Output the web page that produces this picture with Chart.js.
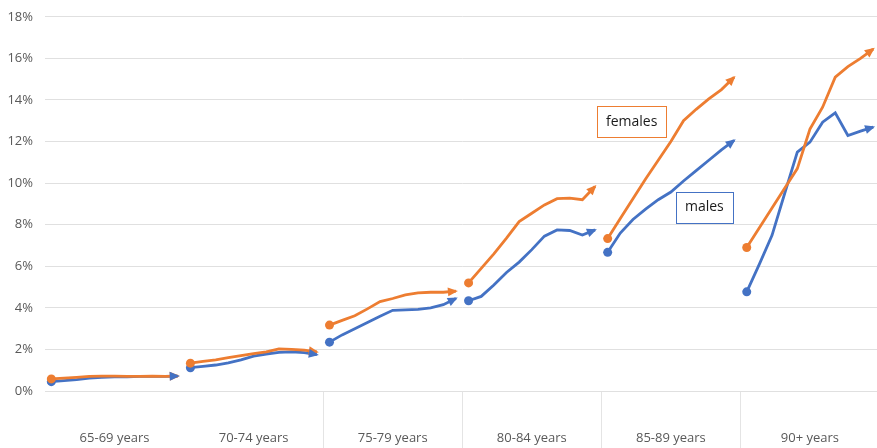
<!DOCTYPE html>
<html>
<head>
<meta charset="utf-8">
<script src="https://cdn.jsdelivr.net/npm/chart.js@4/dist/chart.umd.min.js"></script>
<style>
  html, body { margin: 0; padding: 0; background: #fff; overflow: hidden; }
  #frame { width: 877px; height: 448px; position: relative; overflow: hidden; }
  #wrap { width: 884px; height: 451px; position: absolute; left: 0; top: -3px; }
</style>
</head>
<body>
<div id="frame"><div id="wrap"><canvas id="chart"></canvas></div></div>
<script>
// age groups, each with 11 yearly points
const groups = ["65-69 years", "70-74 years", "75-79 years", "80-84 years", "85-89 years", "90+ years"];
const yTicks = [0, 2, 4, 6, 8, 10, 12, 14, 16, 18];

// females (%), per age group
const f6569 = [0.58, 0.62, 0.66, 0.70, 0.72, 0.72, 0.70, 0.70, 0.72, 0.70, 0.72];
const f7074 = [1.34, 1.42, 1.50, 1.60, 1.70, 1.80, 1.88, 2.03, 2.00, 1.97, 1.88];
const f7579 = [3.17, 3.40, 3.62, 3.95, 4.30, 4.45, 4.62, 4.72, 4.75, 4.75, 4.80];
const f8084 = [5.20, 5.90, 6.60, 7.35, 8.15, 8.55, 8.95, 9.25, 9.28, 9.20, 9.84];
const f8589 = [7.33, 8.30, 9.25, 10.20, 11.10, 12.00, 13.00, 13.55, 14.05, 14.50, 15.09];
const f90 = [6.90, 7.85, 8.80, 9.75, 10.70, 12.60, 13.65, 15.10, 15.60, 16.00, 16.45];

// males (%), per age group
const m6569 = [0.45, 0.50, 0.55, 0.62, 0.66, 0.68, 0.68, 0.70, 0.70, 0.70, 0.72];
const m7074 = [1.12, 1.18, 1.25, 1.35, 1.50, 1.68, 1.78, 1.86, 1.88, 1.85, 1.75];
const m7579 = [2.35, 2.70, 3.00, 3.30, 3.60, 3.88, 3.90, 3.93, 4.00, 4.15, 4.45];
const m8084 = [4.34, 4.55, 5.10, 5.70, 6.20, 6.80, 7.45, 7.75, 7.72, 7.50, 7.75];
const m8589 = [6.67, 7.60, 8.25, 8.75, 9.20, 9.57, 10.10, 10.60, 11.10, 11.60, 12.05];
const m90 = [4.77, 6.10, 7.49, 9.50, 11.49, 11.97, 12.93, 13.38, 12.29, 12.50, 12.69];

const perGroup = 11;
const females = [f6569, f7074, f7579, f8084, f8589, f90].flat();
const males = [m6569, m7074, m7579, m8084, m8589, m90].flat();
const labels = [];
groups.forEach(g => { for (let i = 1; i <= perGroup; i++) labels.push(g + " #" + i); });

// text boxes: [category index, value]
const boxFemales = [45.9, 12.96];
const boxMales = [51.65, 8.83];

const ORANGE = "#ED7D31";
const BLUE = "#4472C4";
const FONT = "'Open Sans', 'DejaVu Sans', sans-serif";

function makeSet(label, data, color) {
  return {
    label,
    data,
    borderColor: color,
    backgroundColor: color,
    borderWidth: 2.8,
    tension: 0,
    pointRadius: ctx => (ctx.dataIndex % perGroup === 0 ? 4.5 : 0),
    pointHoverRadius: 0,
    pointBorderWidth: 0,
    segment: {
      // break the line between age groups
      borderColor: ctx => (ctx.p1DataIndex % perGroup === 0 ? "rgba(0,0,0,0)" : color)
    }
  };
}

// arrow heads at the end of each group
const arrowPlugin = {
  id: "arrows",
  afterDatasetsDraw(chart) {
    const c = chart.ctx;
    chart.data.datasets.forEach((ds, di) => {
      const pts = chart.getDatasetMeta(di).data;
      for (let g = 0; g < groups.length; g++) {
        const end = pts[g * perGroup + perGroup - 1];
        const prev = pts[g * perGroup + perGroup - 2];
        const a = Math.atan2(end.y - prev.y, end.x - prev.x);
        c.save();
        c.translate(end.x, end.y);
        c.rotate(a);
        c.fillStyle = ds.borderColor;
        c.beginPath();
        c.moveTo(2, 0);
        c.lineTo(-8, -4.5);
        c.lineTo(-8, 4.5);
        c.closePath();
        c.fill();
        c.restore();
      }
    });
  }
};

function drawBox(chart, pos, text, color) {
  const c = chart.ctx;
  const x = chart.scales.x.getPixelForValue(pos[0]);
  const y = chart.scales.y.getPixelForValue(pos[1]);
  c.save();
  c.font = "14px " + FONT;
  const w = c.measureText(text).width + 18;
  const h = 31;
  c.fillStyle = "#fff";
  c.fillRect(x - w / 2, y - h / 2, w, h);
  c.strokeStyle = color;
  c.lineWidth = 1;
  c.strokeRect(Math.round(x - w / 2) + 0.5, Math.round(y - h / 2) + 0.5, Math.round(w), h);
  c.fillStyle = "#1a1a1a";
  c.textAlign = "center";
  c.textBaseline = "middle";
  c.fillText(text, x, y);
  c.restore();
}

const boxPlugin = {
  id: "boxes",
  afterDraw(chart) {
    drawBox(chart, boxFemales, "females", ORANGE);
    drawBox(chart, boxMales, "males", BLUE);
  }
};

new Chart(document.getElementById("chart"), {
  type: "line",
  data: {
    labels,
    datasets: [makeSet("females", females, ORANGE), makeSet("males", males, BLUE)]
  },
  options: {
    responsive: true,
    maintainAspectRatio: false,
    animation: false,
    layout: { padding: { top: 13, right: 0, left: 0, bottom: 0 } },
    plugins: { legend: { display: false }, tooltip: { enabled: false } },
    scales: {
      x: {
        type: "category",
        offset: true,
        display: false,
        grid: { display: false }
      },
      x2: {
        type: "category",
        labels: groups,
        position: "bottom",
        offset: true,
        border: { display: false },
        grid: {
          offset: true,
          drawOnChartArea: false,
          drawTicks: true,
          tickLength: 57,
          color: ctx => (ctx.index >= 2 ? "#e4e4e4" : "rgba(0,0,0,0)")
        },
        ticks: {
          color: "#595959",
          font: { family: FONT, size: 13 },
          padding: -18,
          maxRotation: 0
        },
        afterFit: s => { s.height = 57; }
      },
      y: {
        min: 0,
        max: 18,
        afterBuildTicks: s => { s.ticks = yTicks.map(v => ({ value: v })); },
        border: { display: false },
        grid: { color: "#e0e0e0", drawTicks: false },
        ticks: {
          color: "#595959",
          font: { family: FONT, size: 13 },
          padding: 12,
          callback: v => v + "%"
        },
        afterFit: s => { s.width = 45; }
      }
    }
  },
  plugins: [arrowPlugin, boxPlugin]
});
</script>
</body>
</html>
